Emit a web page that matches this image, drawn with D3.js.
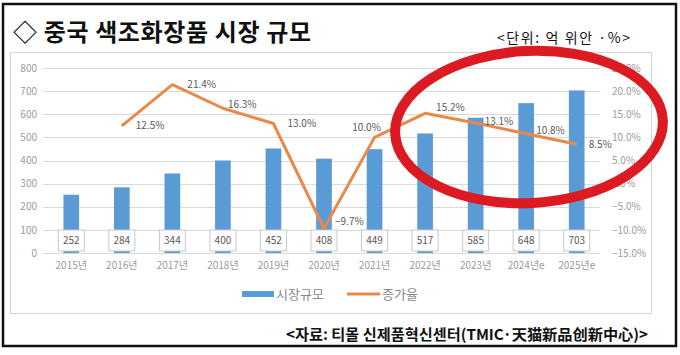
<!DOCTYPE html>
<html><head><meta charset="utf-8">
<script src="https://cdn.jsdelivr.net/npm/d3@7"></script>
<style>
body{margin:0;background:#fff;}
svg{display:block;font-family:"Noto Sans CJK KR","Noto Sans",sans-serif;}
</style></head>
<body>
<svg id="c" width="680" height="355"></svg>
<script>
const categories = ["2015년","2016년","2017년","2018년","2019년","2020년","2021년","2022년","2023년","2024년e","2025년e"];
const marketSize = [252,284,344,400,452,408,449,517,585,648,703];
const growthRate = [null,12.5,21.4,16.3,13.0,-9.7,10.0,15.2,13.1,10.8,8.5];
const leftTicks = [0,100,200,300,400,500,600,700,800];
const rightTicks = [-15,-10,-5,0,5,10,15,20,25];
const titleText = "◇ 중국 색조화장품 시장 규모";
const unitText = "<단위: 억 위안 ·%>";
const sourceText = "<자료: 티몰 신제품혁신센터(TMIC·天猫新品创新中心)>";
const legendNames = ["시장규모","증가율"];
// label placement offsets (style only)
const labelOffsets = [null,[14,0],[15,0],[5,-4],[14,0],[11,-7],[-8,-10],[11,-6],[9,-2],[10,-3],[12,0]];

const svg = d3.select("#c");
const blue = "#5b9bd5", orange = "#e8894a", grid = "#d9d9d9", axisTxt = "#9a9a9a", lblTxt = "#595959";

svg.append("rect").attr("x",0).attr("y",0).attr("width",680).attr("height",355).attr("fill","#fff");
svg.append("rect").attr("x",3).attr("y",4).attr("width",673).attr("height",342)
  .attr("fill","none").attr("stroke","#111").attr("stroke-width",2.5);
svg.append("rect").attr("x",10.5).attr("y",52.5).attr("width",641).attr("height",261)
  .attr("fill","#fff").attr("stroke","#d4d4d4").attr("stroke-width",1);

svg.append("text").attr("x",13).attr("y",41).attr("font-size",24).attr("font-weight",700)
  .attr("fill","#111").attr("textLength",298).attr("lengthAdjust","spacing").text(titleText);
svg.append("text").attr("x",497).attr("y",43).attr("font-size",14)
  .attr("fill","#111").attr("textLength",133).attr("lengthAdjust","spacing").text(unitText);
svg.append("text").attr("x",286).attr("y",340).attr("font-size",15)
  .attr("font-weight",700).attr("fill","#111").attr("textLength",362).attr("lengthAdjust","spacingAndGlyphs").text(sourceText);

const x = d3.scaleBand().domain(categories).range([46,602]).paddingInner(0.69).paddingOuter(0.345);
const yL = d3.scaleLinear().domain([0,800]).range([253,68]);
const yR = d3.scaleLinear().domain([-15,25]).range([253,68]);
const cx = d => x(d) + x.bandwidth()/2;

// gridlines
svg.append("g").selectAll("line").data(leftTicks).join("line")
  .attr("x1",43).attr("x2",600).attr("y1",d=>Math.round(yL(d))+0.5).attr("y2",d=>Math.round(yL(d))+0.5)
  .attr("stroke",grid).attr("stroke-width",1);

// left axis
const gl = svg.append("g").attr("transform","translate(43,0)")
  .call(d3.axisLeft(yL).tickValues(leftTicks).tickSize(0).tickPadding(6));
gl.select(".domain").remove();
gl.selectAll("text").attr("font-size",10).attr("fill",axisTxt).attr("font-family","'Noto Sans CJK KR',sans-serif");

// right axis
const gr = svg.append("g").attr("transform","translate(606,0)")
  .call(d3.axisRight(yR).tickValues(rightTicks).tickSize(0).tickPadding(6).tickFormat(d=>d3.format(".1f")(d)+"%"));
gr.select(".domain").remove();
gr.selectAll("text").attr("font-size",10).attr("fill",axisTxt).attr("font-family","'Noto Sans CJK KR',sans-serif");

// x axis
const gx = svg.append("g").attr("transform","translate(0,253)")
  .call(d3.axisBottom(x).tickSize(0).tickPadding(9));
gx.select(".domain").remove();
gx.selectAll("text").attr("font-size",10).attr("fill",axisTxt).attr("font-family","'Noto Sans CJK KR',sans-serif");

// bars
svg.append("g").selectAll("rect").data(marketSize).join("rect")
  .attr("x",(d,i)=>x(categories[i])).attr("width",x.bandwidth())
  .attr("y",d=>yL(d)).attr("height",d=>yL(0)-yL(d)).attr("fill",blue);

// bar labels
const bl = svg.append("g").selectAll("g").data(marketSize).join("g")
  .attr("transform",(d,i)=>`translate(${cx(categories[i])},241)`);
bl.append("rect").attr("x",-13).attr("y",-11).attr("width",26).attr("height",21)
  .attr("fill","#fff").attr("stroke","#c8c8c8").attr("stroke-width",1);
bl.append("text").attr("text-anchor","middle").attr("dy","0.3em").attr("font-size",10)
  .attr("fill",lblTxt).text(d=>d);

// line
const pts = growthRate.map((v,i)=>({v,i})).filter(d=>d.v!==null);
svg.append("path").datum(pts)
  .attr("d",d3.line().x(d=>cx(categories[d.i])).y(d=>yR(d.v)))
  .attr("fill","none").attr("stroke",orange).attr("stroke-width",3).attr("stroke-linejoin","round");

svg.append("g").selectAll("text").data(pts).join("text")
  .attr("x",d=>cx(categories[d.i])+labelOffsets[d.i][0])
  .attr("y",d=>yR(d.v)+labelOffsets[d.i][1])
  .attr("text-anchor",d=>labelOffsets[d.i][0]<0?"middle":"start")
  .attr("dy","0.35em").attr("font-size",10).attr("fill",lblTxt)
  .text(d=>d3.format(".1f")(d.v)+"%");

// legend
const lg = svg.append("g").attr("transform","translate(0,294)");
lg.append("rect").attr("x",242).attr("y",-3).attr("width",32).attr("height",6).attr("fill",blue);
lg.append("text").attr("x",276).attr("y",0).attr("dy","0.35em").attr("font-size",13).attr("fill","#8a8a8a").text(legendNames[0]);
lg.append("line").attr("x1",347).attr("x2",380).attr("y1",0).attr("y2",0).attr("stroke",orange).attr("stroke-width",3);
lg.append("text").attr("x",382).attr("y",0).attr("dy","0.35em").attr("font-size",13).attr("fill","#8a8a8a").text(legendNames[1]);

// red highlight ellipse
svg.append("ellipse").attr("cx",529).attr("cy",127).attr("rx",134).attr("ry",76)
  .attr("transform","rotate(-3,529,127)")
  .attr("fill","none").attr("stroke","#dc1a22").attr("stroke-width",10);
</script>
</body></html>
